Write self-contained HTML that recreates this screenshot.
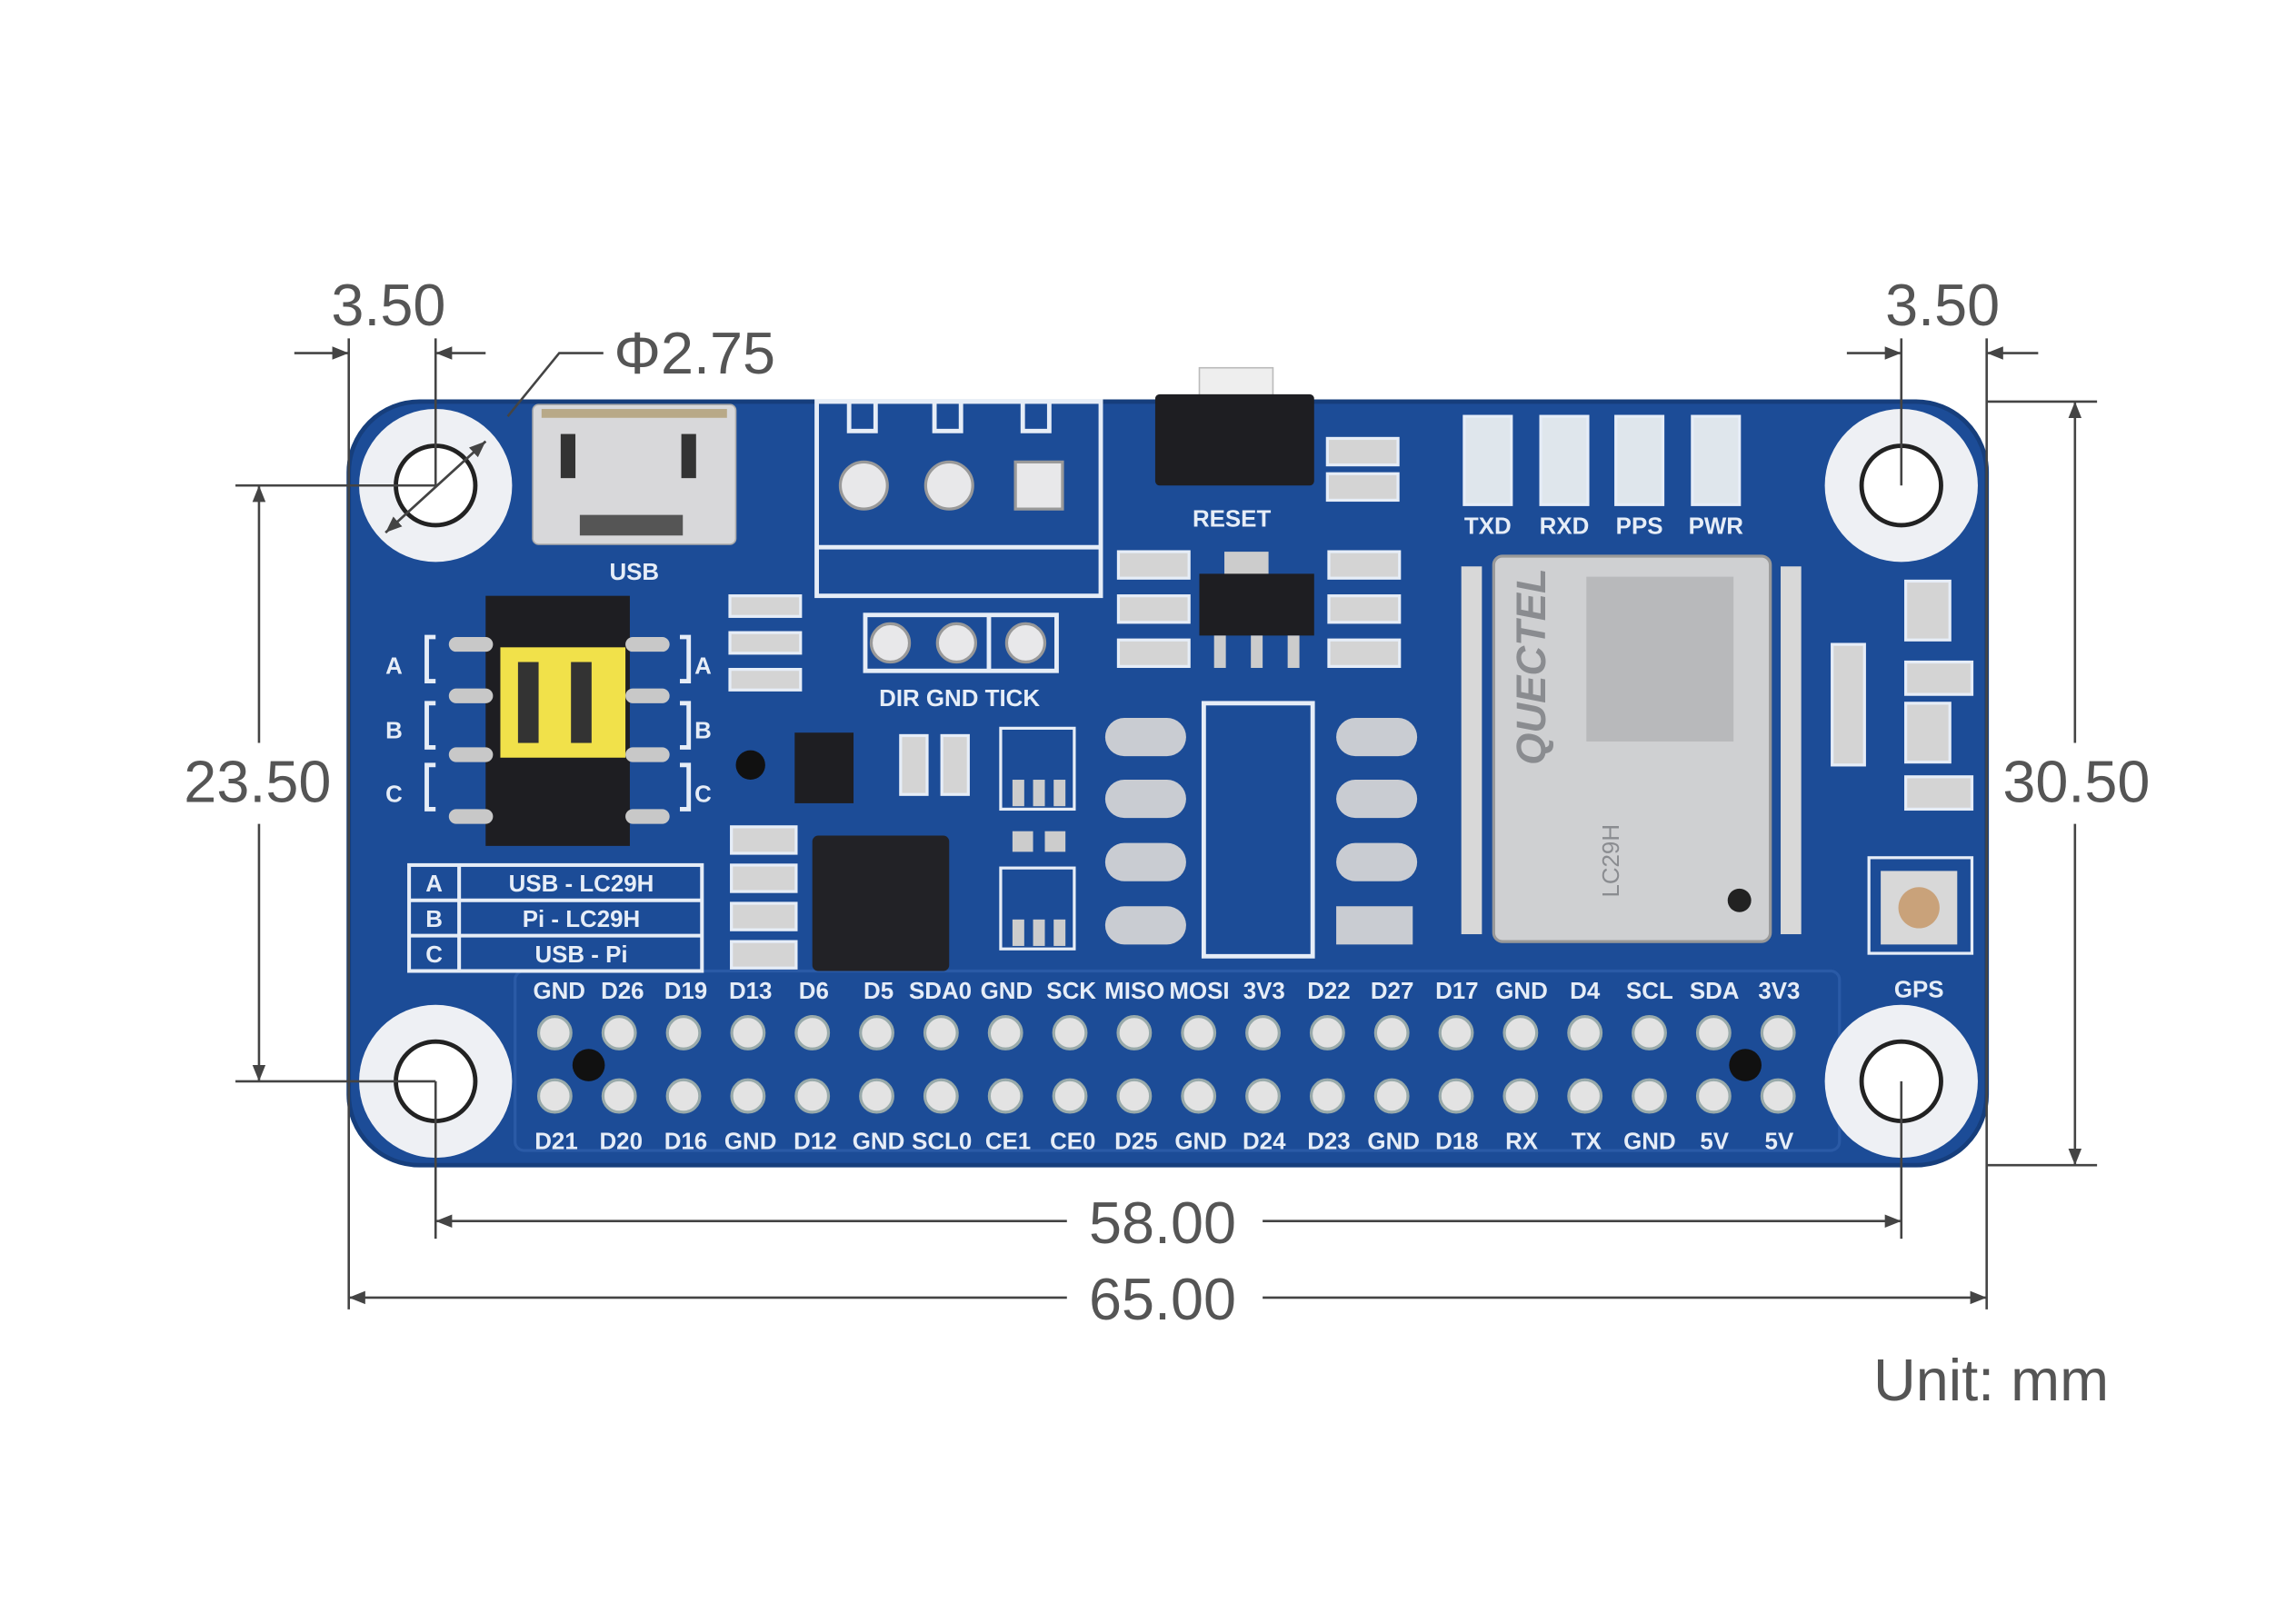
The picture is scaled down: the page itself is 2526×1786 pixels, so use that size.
<!DOCTYPE html>
<html><head><meta charset="utf-8"><style>
html,body{margin:0;padding:0;background:#fff;}
svg{display:block}
.dim{font-family:"Liberation Sans",sans-serif;fill:#555;font-size:40px;}
.lb{font-family:"Liberation Sans",sans-serif;fill:#e6edf7;font-weight:bold;font-size:16px;}
</style></head><body>
<svg width="2526" height="1786" viewBox="0 0 1560.2 1103.2" preserveAspectRatio="none" xmlns="http://www.w3.org/2000/svg">
<defs>
<marker id="ar" viewBox="0 0 10 10" refX="10" refY="5" markerWidth="7" markerHeight="7" orient="auto-start-reverse"><path d="M0,1 L10,5 L0,9 z" fill="#444"/></marker>
</defs>
<!-- board -->
<rect x="237" y="273" width="1113" height="519" rx="48" fill="#1c4c97" stroke="#163e7c" stroke-width="3"/>
<rect x="350" y="660" width="900" height="122" rx="6" fill="none" stroke="#2a5aa6" stroke-width="2"/>
<!-- mounting holes -->
<g fill="#eef0f4">
<circle cx="296" cy="330" r="52"/><circle cx="1292" cy="330" r="52"/>
<circle cx="296" cy="735" r="52"/><circle cx="1292" cy="735" r="52"/>
</g>
<g fill="#fff" stroke="#222" stroke-width="3">
<circle cx="296" cy="330" r="27"/><circle cx="1292" cy="330" r="27"/>
<circle cx="296" cy="735" r="27"/><circle cx="1292" cy="735" r="27"/>
</g>
<!-- USB -->
<rect x="362" y="275" width="138" height="95" rx="4" fill="#d8d8da" stroke="#aaa"/>
<rect x="368" y="278" width="126" height="6" fill="#b8a988"/>
<rect x="381" y="295" width="10" height="30" fill="#333"/><rect x="463" y="295" width="10" height="30" fill="#333"/>
<rect x="394" y="350" width="70" height="14" fill="#555"/>
<text class="lb" x="431" y="394" text-anchor="middle" font-size="17">USB</text>
<!-- terminal block -->
<g fill="none" stroke="#e6edf7" stroke-width="3">
<rect x="555" y="273" width="193" height="132"/><line x1="555" y1="372" x2="748" y2="372"/>
<path d="M577 273 v20 h18 v-20 M635 273 v20 h18 v-20 M695 273 v20 h18 v-20"/>
<rect x="588" y="418" width="130" height="38"/><line x1="672" y1="418" x2="672" y2="456"/>
<rect x="818" y="478" width="74" height="172"/>
</g>
<g fill="#e8e8ea" stroke="#999" stroke-width="2">
<circle cx="587" cy="330" r="16"/><circle cx="645" cy="330" r="16"/><rect x="690" y="314" width="32" height="32"/>
<circle cx="605" cy="437" r="13"/><circle cx="650" cy="437" r="13"/><circle cx="697" cy="437" r="13"/>
</g>
<text class="lb" x="652" y="480" text-anchor="middle">DIR GND TICK</text>
<!-- reset -->
<rect x="815" y="250" width="50" height="20" fill="#eee" stroke="#bbb"/>
<rect x="785" y="268" width="108" height="62" rx="3" fill="#1e1e22"/>
<text class="lb" x="837" y="358" text-anchor="middle">RESET</text>
<!-- small parts -->
<g fill="#d4d4d4" stroke="#e6edf7" stroke-width="2">
<rect x="902" y="298" width="48" height="18"/><rect x="902" y="322" width="48" height="18"/>
<rect x="760" y="375" width="48" height="18"/><rect x="760" y="405" width="48" height="18"/><rect x="760" y="435" width="48" height="18"/>
<rect x="903" y="375" width="48" height="18"/><rect x="903" y="405" width="48" height="18"/><rect x="903" y="435" width="48" height="18"/>
<rect x="496" y="405" width="48" height="14"/><rect x="496" y="430" width="48" height="14"/><rect x="496" y="455" width="48" height="14"/>
<rect x="497" y="562" width="44" height="18"/><rect x="497" y="588" width="44" height="18"/><rect x="497" y="614" width="44" height="18"/><rect x="497" y="640" width="44" height="18"/>
<rect x="612" y="500" width="18" height="40"/><rect x="640" y="500" width="18" height="40"/>
<rect x="1295" y="395" width="30" height="40"/><rect x="1245" y="438" width="22" height="82"/><rect x="1295" y="478" width="30" height="40"/>
<rect x="1295" y="450" width="45" height="22"/><rect x="1295" y="528" width="45" height="22"/>
</g>
<!-- LEDs -->
<g fill="#dfe6ec" stroke="#e6edf7" stroke-width="2">
<rect x="995" y="283" width="32" height="60"/><rect x="1047" y="283" width="32" height="60"/><rect x="1098" y="283" width="32" height="60"/><rect x="1150" y="283" width="32" height="60"/>
</g>
<text class="lb" x="1011" y="363" text-anchor="middle">TXD</text><text class="lb" x="1063" y="363" text-anchor="middle">RXD</text>
<text class="lb" x="1114" y="363" text-anchor="middle">PPS</text><text class="lb" x="1166" y="363" text-anchor="middle">PWR</text>
<!-- regulator -->
<rect x="832" y="375" width="30" height="18" fill="#ccc"/>
<rect x="815" y="390" width="78" height="42" fill="#1e1e22"/>
<rect x="825" y="432" width="8" height="22" fill="#ccc"/><rect x="850" y="432" width="8" height="22" fill="#ccc"/><rect x="875" y="432" width="8" height="22" fill="#ccc"/>
<!-- oval pads -->
<g fill="#c9ccd2">
<rect x="751" y="488" width="55" height="26" rx="13"/><rect x="751" y="530" width="55" height="26" rx="13"/><rect x="751" y="573" width="55" height="26" rx="13"/><rect x="751" y="616" width="55" height="26" rx="13"/>
<rect x="908" y="488" width="55" height="26" rx="13"/><rect x="908" y="530" width="55" height="26" rx="13"/><rect x="908" y="573" width="55" height="26" rx="13"/><rect x="908" y="616" width="52" height="26"/>
</g>
<!-- GPS module -->
<g fill="#d8d8d8">
<rect x="993" y="385" width="14" height="250"/><rect x="1210" y="385" width="14" height="250"/>
</g>
<rect x="1015" y="378" width="188" height="262" rx="6" fill="#cfd0d2" stroke="#999" stroke-width="2"/>
<rect x="1078" y="392" width="100" height="112" fill="#b8b9bb"/>
<text x="1050" y="520" font-family="Liberation Sans,sans-serif" font-size="28" font-weight="bold" font-style="italic" fill="#8a8c90" transform="rotate(-90 1050 520)">QUECTEL</text>
<text x="1100" y="610" font-family="Liberation Sans,sans-serif" font-size="16" fill="#8a8c90" transform="rotate(-90 1100 610)">LC29H</text>
<circle cx="1182" cy="612" r="8" fill="#222"/>
<!-- u.fl -->
<rect x="1270" y="583" width="70" height="65" fill="none" stroke="#e6edf7" stroke-width="2"/>
<rect x="1278" y="592" width="52" height="50" fill="#d8d8d8"/><circle cx="1304" cy="617" r="14" fill="#c9a27a"/>
<text class="lb" x="1304" y="678" text-anchor="middle">GPS</text>
<!-- jumper -->
<rect x="330" y="405" width="98" height="170" fill="#1e1e22"/>
<g fill="#c8c8c8"><rect x="305" y="433" width="30" height="10" rx="5"/><rect x="305" y="468" width="30" height="10" rx="5"/><rect x="305" y="508" width="30" height="10" rx="5"/><rect x="305" y="550" width="30" height="10" rx="5"/>
<rect x="425" y="433" width="30" height="10" rx="5"/><rect x="425" y="468" width="30" height="10" rx="5"/><rect x="425" y="508" width="30" height="10" rx="5"/><rect x="425" y="550" width="30" height="10" rx="5"/></g>
<rect x="340" y="440" width="85" height="75" fill="#f1e14a"/>
<rect x="352" y="450" width="14" height="55" fill="#333"/><rect x="388" y="450" width="14" height="55" fill="#333"/>
<g fill="none" stroke="#e6edf7" stroke-width="3"><path d="M296 433 h-6 v30 h6 M296 478 h-6 v30 h6 M296 520 h-6 v30 h6 M462 433 h6 v30 h-6 M462 478 h6 v30 h-6 M462 520 h6 v30 h-6"/></g>
<g class="lb" font-size="22"><text x="262" y="458" class="lb" font-size="22">A</text><text x="262" y="502" class="lb" font-size="22">B</text><text x="262" y="545" class="lb" font-size="22">C</text>
<text x="472" y="458" class="lb" font-size="22">A</text><text x="472" y="502" class="lb" font-size="22">B</text><text x="472" y="545" class="lb" font-size="22">C</text></g>
<!-- table -->
<g fill="none" stroke="#e6edf7" stroke-width="2.5"><rect x="278" y="588" width="199" height="72"/><line x1="278" y1="612" x2="477" y2="612"/><line x1="278" y1="636" x2="477" y2="636"/><line x1="312" y1="588" x2="312" y2="660"/></g>
<text class="lb" x="295" y="606" text-anchor="middle">A</text><text class="lb" x="295" y="630" text-anchor="middle">B</text><text class="lb" x="295" y="654" text-anchor="middle">C</text>
<text class="lb" x="395" y="606" text-anchor="middle">USB - LC29H</text><text class="lb" x="395" y="630" text-anchor="middle">Pi - LC29H</text><text class="lb" x="395" y="654" text-anchor="middle">USB - Pi</text>
<!-- chips -->
<rect x="552" y="568" width="93" height="92" rx="4" fill="#222226"/>
<rect x="540" y="498" width="40" height="48" fill="#1e1e22"/>
<circle cx="510" cy="520" r="10" fill="#111"/>
<g fill="none" stroke="#e6edf7" stroke-width="2"><rect x="680" y="495" width="50" height="55"/><rect x="680" y="590" width="50" height="55"/></g>
<g fill="#ccc"><rect x="688" y="530" width="8" height="18"/><rect x="702" y="530" width="8" height="18"/><rect x="716" y="530" width="8" height="18"/><rect x="688" y="565" width="14" height="14"/><rect x="710" y="565" width="14" height="14"/><rect x="688" y="625" width="8" height="18"/><rect x="702" y="625" width="8" height="18"/><rect x="716" y="625" width="8" height="18"/></g>
<!-- header pins -->
<g id="pins" fill="#e3e3e3" stroke="#9aa" stroke-width="2">
<circle cx="377" cy="702" r="11"/><circle cx="420.75" cy="702" r="11"/><circle cx="464.5" cy="702" r="11"/><circle cx="508.25" cy="702" r="11"/><circle cx="552" cy="702" r="11"/><circle cx="595.75" cy="702" r="11"/><circle cx="639.5" cy="702" r="11"/><circle cx="683.25" cy="702" r="11"/><circle cx="727" cy="702" r="11"/><circle cx="770.75" cy="702" r="11"/><circle cx="814.5" cy="702" r="11"/><circle cx="858.25" cy="702" r="11"/><circle cx="902" cy="702" r="11"/><circle cx="945.75" cy="702" r="11"/><circle cx="989.5" cy="702" r="11"/><circle cx="1033.25" cy="702" r="11"/><circle cx="1077" cy="702" r="11"/><circle cx="1120.75" cy="702" r="11"/><circle cx="1164.5" cy="702" r="11"/><circle cx="1208.25" cy="702" r="11"/>
<circle cx="377" cy="745" r="11"/><circle cx="420.75" cy="745" r="11"/><circle cx="464.5" cy="745" r="11"/><circle cx="508.25" cy="745" r="11"/><circle cx="552" cy="745" r="11"/><circle cx="595.75" cy="745" r="11"/><circle cx="639.5" cy="745" r="11"/><circle cx="683.25" cy="745" r="11"/><circle cx="727" cy="745" r="11"/><circle cx="770.75" cy="745" r="11"/><circle cx="814.5" cy="745" r="11"/><circle cx="858.25" cy="745" r="11"/><circle cx="902" cy="745" r="11"/><circle cx="945.75" cy="745" r="11"/><circle cx="989.5" cy="745" r="11"/><circle cx="1033.25" cy="745" r="11"/><circle cx="1077" cy="745" r="11"/><circle cx="1120.75" cy="745" r="11"/><circle cx="1164.5" cy="745" r="11"/><circle cx="1208.25" cy="745" r="11"/>
</g>
<circle cx="400" cy="724" r="11" fill="#111"/><circle cx="1186" cy="724" r="11" fill="#111"/>
<g class="lb" font-size="16" text-anchor="middle">
<text x="380" y="679" class="lb" text-anchor="middle">GND</text><text x="423" y="679" class="lb" text-anchor="middle">D26</text><text x="466" y="679" class="lb" text-anchor="middle">D19</text><text x="510" y="679" class="lb" text-anchor="middle">D13</text><text x="553" y="679" class="lb" text-anchor="middle">D6</text><text x="597" y="679" class="lb" text-anchor="middle">D5</text><text x="639" y="679" class="lb" text-anchor="middle">SDA0</text><text x="684" y="679" class="lb" text-anchor="middle">GND</text><text x="728" y="679" class="lb" text-anchor="middle">SCK</text><text x="771" y="679" class="lb" text-anchor="middle">MISO</text><text x="815" y="679" class="lb" text-anchor="middle">MOSI</text><text x="859" y="679" class="lb" text-anchor="middle">3V3</text><text x="903" y="679" class="lb" text-anchor="middle">D22</text><text x="946" y="679" class="lb" text-anchor="middle">D27</text><text x="990" y="679" class="lb" text-anchor="middle">D17</text><text x="1034" y="679" class="lb" text-anchor="middle">GND</text><text x="1077" y="679" class="lb" text-anchor="middle">D4</text><text x="1121" y="679" class="lb" text-anchor="middle">SCL</text><text x="1165" y="679" class="lb" text-anchor="middle">SDA</text><text x="1209" y="679" class="lb" text-anchor="middle">3V3</text>
<text x="378" y="781" class="lb" text-anchor="middle">D21</text><text x="422" y="781" class="lb" text-anchor="middle">D20</text><text x="466" y="781" class="lb" text-anchor="middle">D16</text><text x="510" y="781" class="lb" text-anchor="middle">GND</text><text x="554" y="781" class="lb" text-anchor="middle">D12</text><text x="597" y="781" class="lb" text-anchor="middle">GND</text><text x="640" y="781" class="lb" text-anchor="middle">SCL0</text><text x="685" y="781" class="lb" text-anchor="middle">CE1</text><text x="729" y="781" class="lb" text-anchor="middle">CE0</text><text x="772" y="781" class="lb" text-anchor="middle">D25</text><text x="816" y="781" class="lb" text-anchor="middle">GND</text><text x="859" y="781" class="lb" text-anchor="middle">D24</text><text x="903" y="781" class="lb" text-anchor="middle">D23</text><text x="947" y="781" class="lb" text-anchor="middle">GND</text><text x="990" y="781" class="lb" text-anchor="middle">D18</text><text x="1034" y="781" class="lb" text-anchor="middle">RX</text><text x="1078" y="781" class="lb" text-anchor="middle">TX</text><text x="1121" y="781" class="lb" text-anchor="middle">GND</text><text x="1165" y="781" class="lb" text-anchor="middle">5V</text><text x="1209" y="781" class="lb" text-anchor="middle">5V</text>
</g>
<!-- dimension lines -->
<g stroke="#444" stroke-width="1.6" fill="none">
<line x1="237" y1="230" x2="237" y2="890"/><line x1="1350" y1="230" x2="1350" y2="890"/>
<line x1="296" y1="230" x2="296" y2="330"/><line x1="1292" y1="230" x2="1292" y2="330"/>
<line x1="296" y1="735" x2="296" y2="842"/><line x1="1292" y1="735" x2="1292" y2="842"/>
<line x1="200" y1="240" x2="237" y2="240" marker-end="url(#ar)"/><line x1="330" y1="240" x2="296" y2="240" marker-end="url(#ar)"/>
<line x1="1255" y1="240" x2="1292" y2="240" marker-end="url(#ar)"/><line x1="1385" y1="240" x2="1350" y2="240" marker-end="url(#ar)"/>
<line x1="160" y1="330" x2="296" y2="330"/><line x1="160" y1="735" x2="296" y2="735"/>
<line x1="176" y1="505" x2="176" y2="330" marker-end="url(#ar)"/><line x1="176" y1="560" x2="176" y2="735" marker-end="url(#ar)"/>
<line x1="1350" y1="273" x2="1425" y2="273"/><line x1="1350" y1="792" x2="1425" y2="792"/>
<line x1="1410" y1="505" x2="1410" y2="273" marker-end="url(#ar)"/><line x1="1410" y1="560" x2="1410" y2="792" marker-end="url(#ar)"/>
<line x1="725" y1="830" x2="296" y2="830" marker-end="url(#ar)"/><line x1="858" y1="830" x2="1292" y2="830" marker-end="url(#ar)"/>
<line x1="725" y1="882" x2="237" y2="882" marker-end="url(#ar)"/><line x1="858" y1="882" x2="1350" y2="882" marker-end="url(#ar)"/>
<path d="M410 240 H380 L345 283"/><line x1="330" y1="300" x2="262" y2="362" marker-end="url(#ar)"/><line x1="262" y1="362" x2="330" y2="300" marker-end="url(#ar)"/>
</g>
<text class="dim" x="264" y="221" text-anchor="middle">3.50</text>
<text class="dim" x="1320" y="221" text-anchor="middle">3.50</text>
<text class="dim" x="472" y="254" text-anchor="middle">Φ2.75</text>
<text class="dim" x="175" y="545" text-anchor="middle">23.50</text>
<text class="dim" x="1411" y="545" text-anchor="middle">30.50</text>
<text class="dim" x="790" y="845" text-anchor="middle">58.00</text>
<text class="dim" x="790" y="897" text-anchor="middle">65.00</text>
<text class="dim" x="1353" y="952" text-anchor="middle">Unit: mm</text>
</svg>
</body></html>
